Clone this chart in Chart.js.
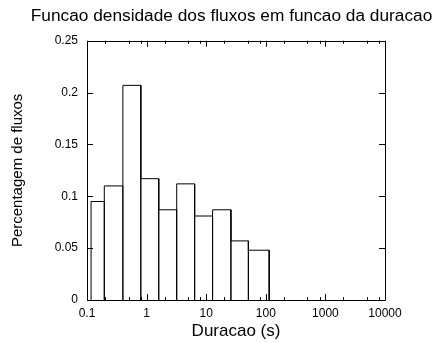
<!DOCTYPE html>
<html>
<head>
<meta charset="utf-8">
<script src="https://cdn.jsdelivr.net/npm/chart.js@4"></script>
<style>
  html, body { margin: 0; padding: 0; background: #fff; }
  #wrap { width: 438px; height: 343px; }
</style>
</head>
<body>
<div id="wrap"><canvas id="chart"></canvas></div>
<script>
// bin edges (s) and heights
var binEdges = [0.117, 0.195, 0.4, 0.8, 1.6, 3.2, 6.4, 12.8, 26, 51, 114];
var binValues = [0.095, 0.110, 0.207, 0.117, 0.087, 0.112, 0.081, 0.087, 0.057, 0.048];

var xTicks = [0.1, 1, 10, 100, 1000, 10000];
var xMinorFactors = [2, 5, 8];
var yTicks = [0, 0.05, 0.1, 0.15, 0.2, 0.25];
var yTickLabels = ["0", "0.05", "0.1", "0.15", "0.2", "0.25"];

var fontFamily = "Liberation Sans, Arial, sans-serif";

// outline of every box
var outline = [];
for (var i = 0; i < binValues.length; i++) {
    outline.push({ x: binEdges[i], y: 0 });
    outline.push({ x: binEdges[i], y: binValues[i] });
    outline.push({ x: binEdges[i + 1], y: binValues[i] });
    outline.push({ x: binEdges[i + 1], y: 0 });
}

// frame + inward tick marks like gnuplot
var framePlugin = {
    id: "frame",
    afterDraw: function (chart) {
        var ctx = chart.ctx;
        var a = chart.chartArea;
        var xs = chart.scales.x;
        var ys = chart.scales.y;
        ctx.save();
        ctx.strokeStyle = "#000";
        ctx.lineWidth = 1;
        ctx.beginPath();
        ctx.rect(Math.round(a.left) + 0.5, Math.round(a.top) + 0.5,
            Math.round(a.right - a.left), Math.round(a.bottom - a.top));
        // x ticks
        for (var d = 0; d < xTicks.length; d++) {
            var px = Math.round(xs.getPixelForValue(xTicks[d])) + 0.5;
            ctx.moveTo(px, a.bottom); ctx.lineTo(px, a.bottom - 6);
            ctx.moveTo(px, a.top); ctx.lineTo(px, a.top + 6);
            if (d < xTicks.length - 1) {
                for (var m = 0; m < xMinorFactors.length; m++) {
                    var mx = Math.round(xs.getPixelForValue(xTicks[d] * xMinorFactors[m])) + 0.5;
                    ctx.moveTo(mx, a.bottom); ctx.lineTo(mx, a.bottom - 3);
                    ctx.moveTo(mx, a.top); ctx.lineTo(mx, a.top + 3);
                }
            }
        }
        // y ticks
        for (var k = 0; k < yTicks.length; k++) {
            var py = Math.round(ys.getPixelForValue(yTicks[k])) + 0.5;
            ctx.moveTo(a.left, py); ctx.lineTo(a.left + 6, py);
            ctx.moveTo(a.right, py); ctx.lineTo(a.right - 6, py);
        }
        ctx.stroke();
        ctx.restore();
    }
};

var ctx = document.getElementById("chart").getContext("2d");
var chart = new Chart(ctx, {
    type: "scatter",
    data: {
        datasets: [{
            label: "densidade",
            data: outline,
            showLine: true,
            borderColor: "#000",
            borderWidth: 1,
            pointRadius: 0,
            fill: false,
            clip: false
        }]
    },
    options: {
        responsive: true,
        maintainAspectRatio: false,
        animation: false,
        layout: { padding: { left: 25, right: 0, top: 0, bottom: 0 } },
        plugins: {
            legend: { display: false },
            tooltip: { enabled: false },
            title: {
                display: true,
                text: "Funcao densidade dos fluxos em funcao da duracao",
                color: "#000",
                font: { family: fontFamily, size: 17.3, weight: "normal" },
                padding: { top: 6, bottom: 14 }
            }
        },
        scales: {
            x: {
                type: "logarithmic",
                min: 0.1,
                max: 10000,
                grid: { display: false, drawTicks: false },
                border: { display: false },
                afterBuildTicks: function (scale) {
                    scale.ticks = xTicks.map(function (v) { return { value: v }; });
                },
                afterFit: function (scale) { scale.height = 43; },
                ticks: {
                    color: "#000",
                    padding: 6,
                    maxRotation: 0,
                    autoSkip: false,
                    font: { family: fontFamily, size: 12 },
                    callback: function (value) { return String(value); }
                },
                title: {
                    display: true,
                    text: "Duracao (s)",
                    color: "#000",
                    font: { family: fontFamily, size: 17 },
                    padding: { top: 0, bottom: 1 }
                }
            },
            y: {
                min: 0,
                max: 0.25,
                grid: { display: false, drawTicks: false },
                border: { display: false },
                afterBuildTicks: function (scale) {
                    scale.ticks = yTicks.map(function (v) { return { value: v }; });
                },
                afterFit: function (scale) { scale.width = 62; },
                ticks: {
                    color: "#000",
                    padding: 9,
                    font: { family: fontFamily, size: 12 },
                    callback: function (value, index) { return yTickLabels[index]; }
                },
                title: {
                    display: true,
                    text: "Percentagem de fluxos",
                    color: "#000",
                    font: { family: fontFamily, size: 15 },
                    padding: { top: -16, bottom: 0 }
                }
            },
            // empty right axis, only reserves the space right of the frame
            yRight: {
                position: "right",
                min: 0,
                max: 0.25,
                grid: { display: false, drawTicks: false },
                border: { display: false },
                ticks: { display: false },
                afterFit: function (scale) { scale.width = 53; }
            }
        }
    },
    plugins: [framePlugin]
});
</script>
</body>
</html>
